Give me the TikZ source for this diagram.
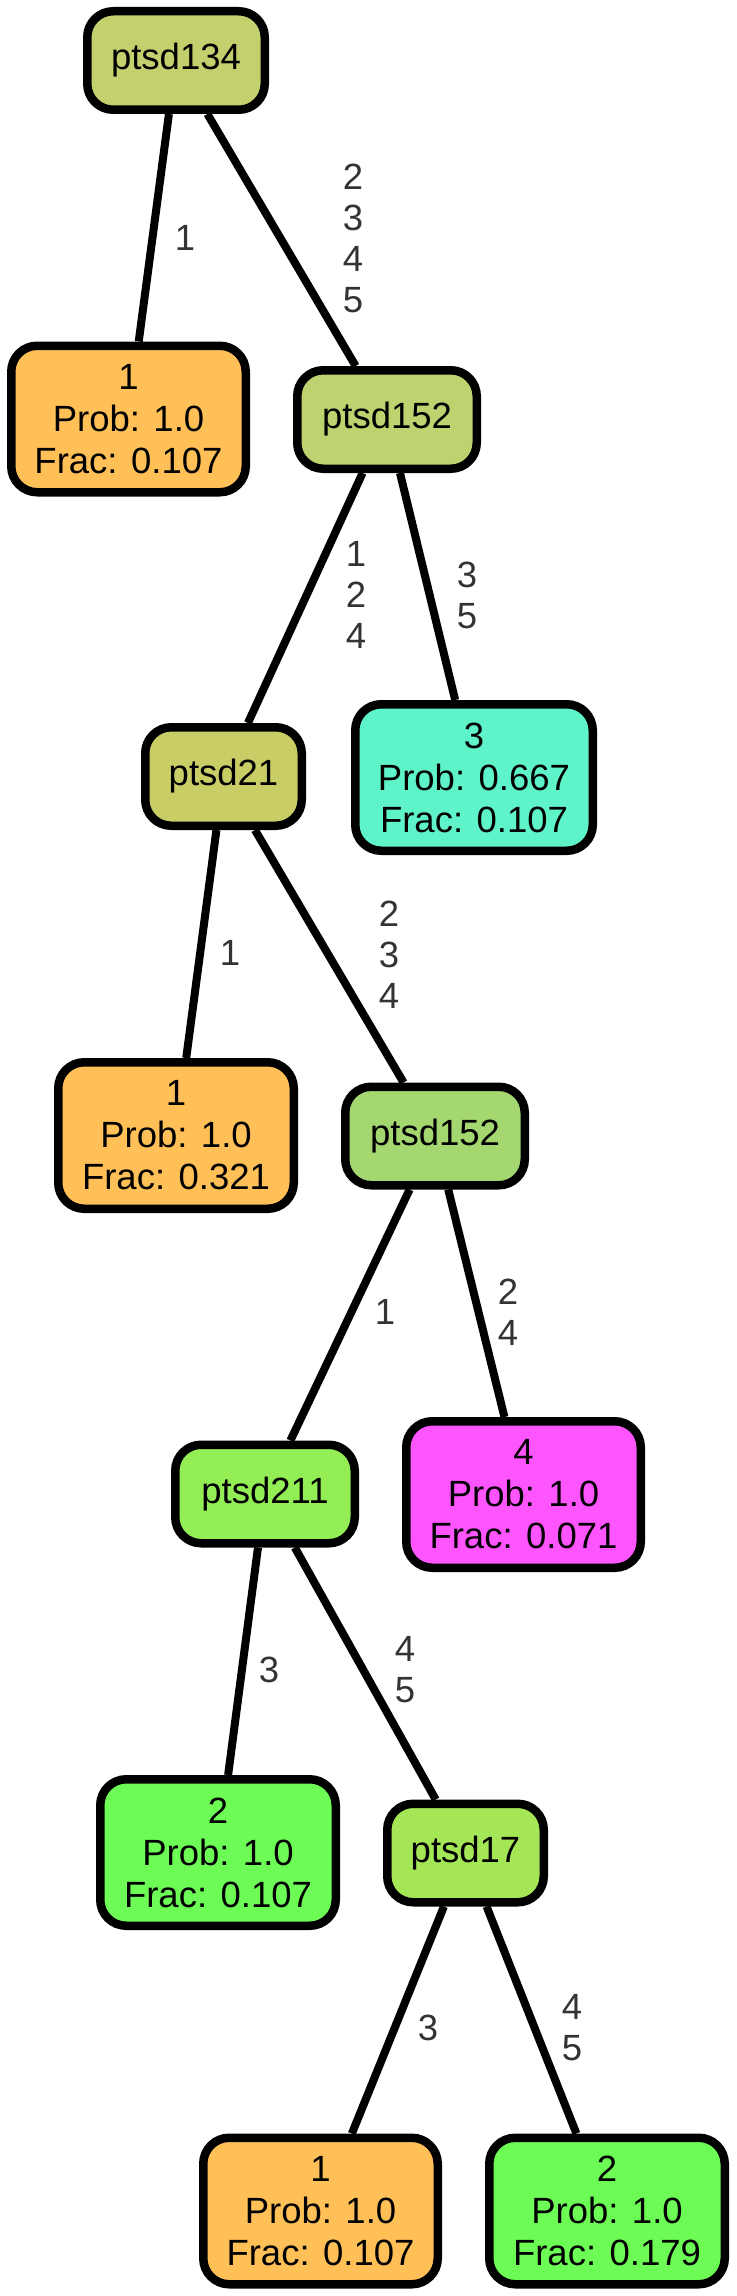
\documentclass[tikz,border=0pt]{standalone}
\usepackage{fontspec}
\setmainfont{Liberation Sans}
\definecolor{cA}{RGB}{196,208,110}
\definecolor{cB}{RGB}{189,211,111}
\definecolor{cOr}{RGB}{254,192,87}
\definecolor{cTe}{RGB}{94,243,200}
\definecolor{cC}{RGB}{201,205,101}
\definecolor{cD}{RGB}{165,215,112}
\definecolor{cE}{RGB}{147,238,85}
\definecolor{cGr}{RGB}{108,252,85}
\definecolor{cF}{RGB}{164,230,85}
\definecolor{cMa}{RGB}{255,85,255}
\definecolor{labelgray}{RGB}{51,51,51}
\begin{document}
\begin{tikzpicture}[x=1pt,y=-1pt,
  box/.style={draw=black, line width=8.5pt, rounded corners=26pt, inner sep=0pt, align=center, font=\fontsize{36.5}{42}\selectfont},
  split/.style={box, minimum height=98.5pt},
  leafbox/.style={box, minimum height=146.5pt},
  elabel/.style={text=labelgray, align=center, inner sep=0pt, font=\fontsize{36.5}{41}\selectfont},
  edgeline/.style={line width=8pt}]
\useasboundingbox (0,0) rectangle (736,2296);
% decision nodes
\node[split, fill=cA, minimum width=177.5pt] (n0) at (176,60.5) {ptsd134};
\node[split, fill=cB, minimum width=179.5pt] (n1) at (387,419.5) {ptsd152};
\node[split, fill=cC, minimum width=156.5pt] (n2) at (223.5,776.5) {ptsd21};
\node[split, fill=cD, minimum width=179.5pt] (n3) at (435,1136) {ptsd152};
\node[split, fill=cE, minimum width=179.5pt] (n4) at (265,1494) {ptsd211};
\node[split, fill=cF, minimum width=156.5pt] (n5) at (465.5,1853) {ptsd17};
% leaves
\node[leafbox, fill=cOr, minimum width=234.5pt] (l1a) at (128.5,419) {1\\Prob: 1.0\\Frac: 0.107};
\node[leafbox, fill=cTe, minimum width=237.5pt] (l3) at (474,777.5) {3\\Prob: 0.667\\Frac: 0.107};
\node[leafbox, fill=cOr, minimum width=235.5pt] (l1b) at (176,1135.5) {1\\Prob: 1.0\\Frac: 0.321};
\node[leafbox, fill=cMa, minimum width=234.5pt] (l4) at (523.5,1494.5) {4\\Prob: 1.0\\Frac: 0.071};
\node[leafbox, fill=cGr, minimum width=235.5pt] (l2a) at (218,1852.5) {2\\Prob: 1.0\\Frac: 0.107};
\node[leafbox, fill=cOr, minimum width=234.5pt] (l1c) at (320.5,2211) {1\\Prob: 1.0\\Frac: 0.107};
\node[leafbox, fill=cGr, minimum width=235.5pt] (l2b) at (607,2211) {2\\Prob: 1.0\\Frac: 0.179};
% edges
\draw[edgeline] (n0) -- (l1a);
\draw[edgeline] (n0) -- (n1);
\draw[edgeline] (n1) -- (n2);
\draw[edgeline] (n1) -- (l3);
\draw[edgeline] (n2) -- (l1b);
\draw[edgeline] (n2) -- (n3);
\draw[edgeline] (n3) -- (n4);
\draw[edgeline] (n3) -- (l4);
\draw[edgeline] (n4) -- (l2a);
\draw[edgeline] (n4) -- (n5);
\draw[edgeline] (n5) -- (l1c);
\draw[edgeline] (n5) -- (l2b);
% edge labels
\node[elabel] (e01) at (185,238) {1};
\node[elabel] (e02) at (353,238) {2\\3\\4\\5};
\node[elabel] (e12) at (356,595) {1\\2\\4};
\node[elabel] (e13) at (467,595) {3\\5};
\node[elabel] (e2l) at (230,953) {1};
\node[elabel] (e23) at (389,955) {2\\3\\4};
\node[elabel] (e34) at (385,1312) {1};
\node[elabel] (e3l) at (508,1312) {2\\4};
\node[elabel] (e4l) at (269,1670) {3};
\node[elabel] (e45) at (405,1670) {4\\5};
\node[elabel] (e5l) at (428,2028) {3};
\node[elabel] (e5r) at (572,2028) {4\\5};
\end{tikzpicture}
\end{document}
